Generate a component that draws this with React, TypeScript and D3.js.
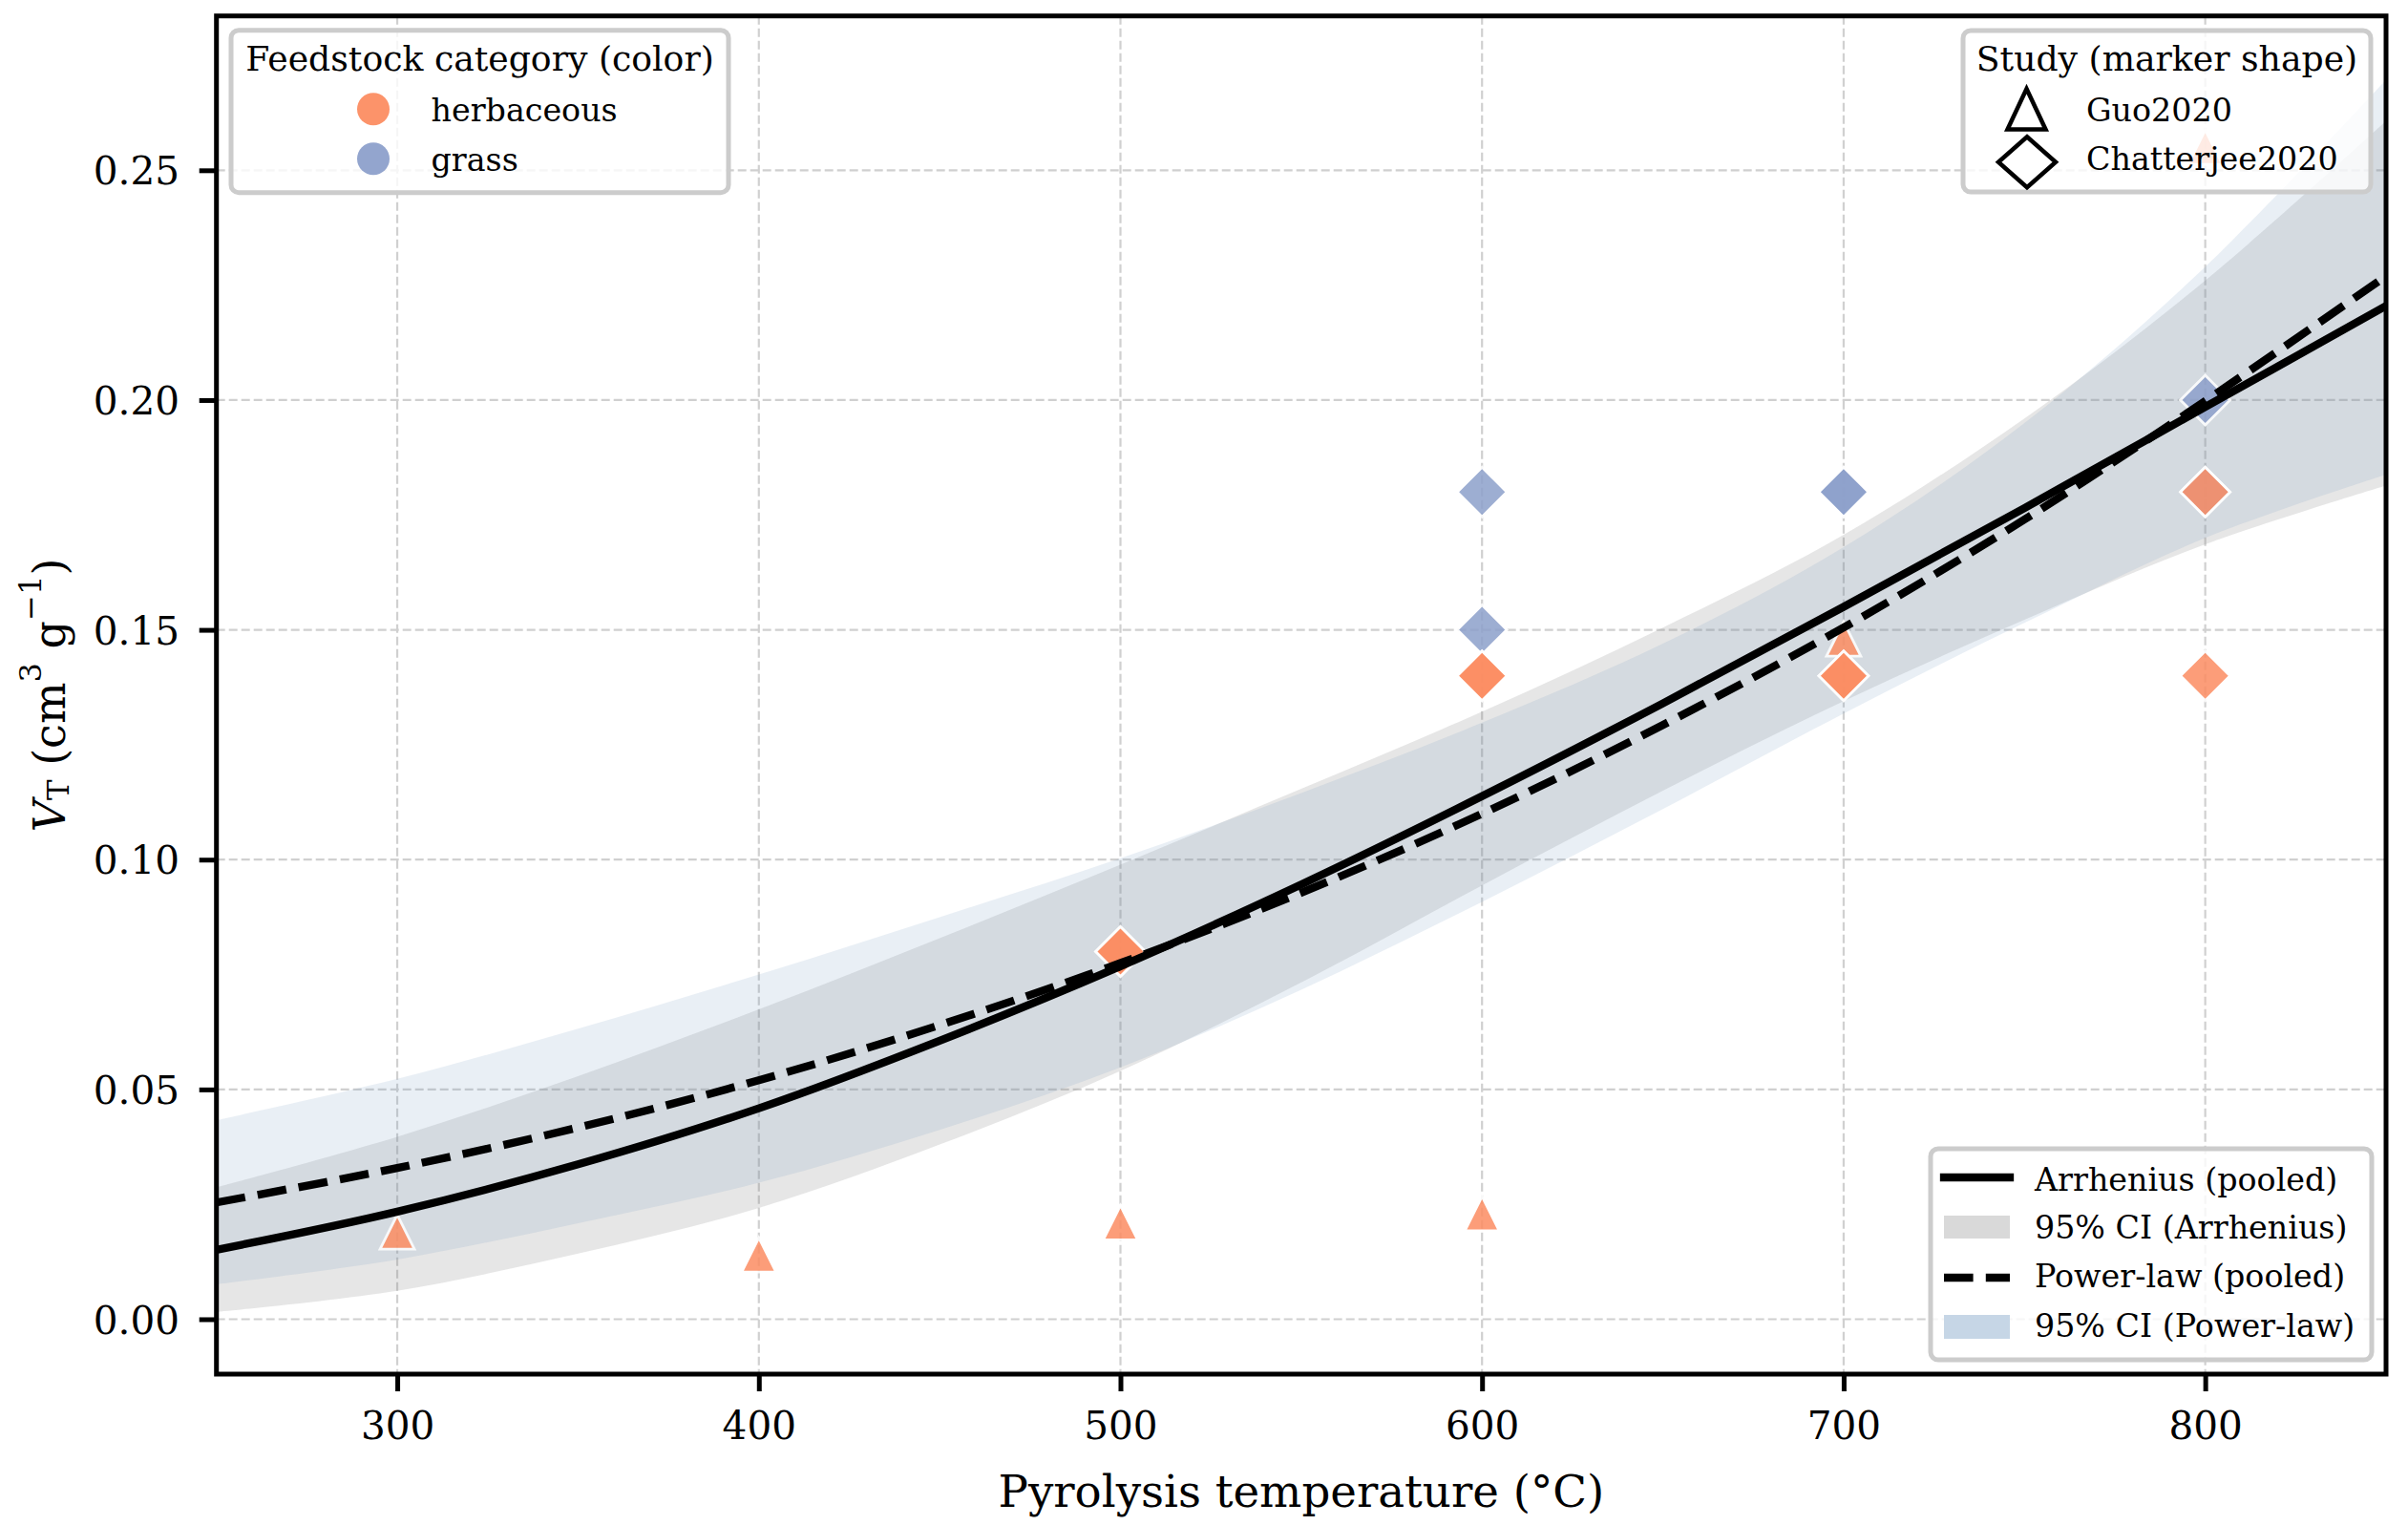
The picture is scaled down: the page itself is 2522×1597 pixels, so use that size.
import { useEffect, useRef } from "react";
import * as d3 from "d3";

// ── Data ──────────────────────────────────────────────────────────────────────

const TEMPS = [250, 300, 350, 400, 450, 500, 550, 600, 650, 700, 750, 800, 850];

// Arrhenius pooled fit and its 95% CI
const ARRH_FIT = [0.0151, 0.0234, 0.0337, 0.0459, 0.0606, 0.0768, 0.0946, 0.1138, 0.134, 0.155, 0.1765, 0.1985, 0.2205];
const ARRH_LO = [0.0016, 0.0062, 0.0143, 0.0242, 0.038, 0.054, 0.0733, 0.0944, 0.115, 0.1345, 0.1522, 0.1686, 0.1814];
const ARRH_HI = [0.0287, 0.0397, 0.0529, 0.0674, 0.0829, 0.0989, 0.1154, 0.1322, 0.1505, 0.1707, 0.196, 0.226, 0.2607];

// Power-law pooled fit and its 95% CI
const POW_FIT = [0.0254, 0.0329, 0.0417, 0.052, 0.064, 0.0775, 0.0928, 0.11, 0.1293, 0.1505, 0.174, 0.1998, 0.227];
const POW_LO = [0.0076, 0.013, 0.0209, 0.0297, 0.0412, 0.0548, 0.0717, 0.0908, 0.111, 0.1318, 0.1515, 0.17, 0.1838];
const POW_HI = [0.0433, 0.0523, 0.0632, 0.075, 0.0875, 0.1003, 0.1145, 0.1298, 0.147, 0.168, 0.195, 0.229, 0.2697];

// Observations
const GUO_T = [300, 400, 500, 600, 700, 800];
const GUO_V = [0.019, 0.014, 0.021, 0.023, 0.148, 0.255];

const CHAT_GRASS_T = [600, 600, 700, 700, 800, 800];
const CHAT_GRASS_V = [0.18, 0.15, 0.18, 0.18, 0.2, 0.18];

const CHAT_HERB_T = [500, 500, 600, 600, 700, 700, 800, 800];
const CHAT_HERB_V = [0.08, 0.08, 0.14, 0.14, 0.14, 0.14, 0.18, 0.14];

const X_TICKS = [300, 400, 500, 600, 700, 800];
const Y_TICKS = [0, 0.05, 0.1, 0.15, 0.2, 0.25];

const CATEGORIES = ["herbaceous", "grass"];
const STUDIES = ["Guo2020", "Chatterjee2020"];
const FIT_LABELS = ["Arrhenius (pooled)", "95% CI (Arrhenius)", "Power-law (pooled)", "95% CI (Power-law)"];

// ── Constants ─────────────────────────────────────────────────────────────────

const W = 2522;
const H = 1597;
const PLOT = { left: 226.7, right: 2499, top: 16.7, bottom: 1439 };
const X_DOMAIN: [number, number] = [250, 850];
const Y_DOMAIN: [number, number] = [-0.01195, 0.28358];

const FONT = "'DejaVu Serif', serif";
const TICK_FONT = 40.5;
const LABEL_FONT = 46.7;
const LEGEND_FONT = 33.3;
const LEGEND_TITLE_FONT = 36.2;

const HERB = "#fc8d62";
const GRASS = "#8da0cb";
const CAT_COLORS = [HERB, GRASS];
const LINE_W = 8.33;

function triPath(cx: number, cy: number, s: number): string {
  return `M${cx},${cy - s}L${cx + s},${cy + s}L${cx - s},${cy + s}Z`;
}

function diaPath(cx: number, cy: number, hw: number, hh: number): string {
  return `M${cx},${cy - hh}L${cx + hw},${cy}L${cx},${cy + hh}L${cx - hw},${cy}Z`;
}

// ── D3 render ─────────────────────────────────────────────────────────────────

function renderChart(svg: SVGSVGElement): void {
  const root = d3.select(svg);
  root.selectAll("*").remove();

  const x = d3.scaleLinear().domain(X_DOMAIN).range([PLOT.left, PLOT.right]);
  const y = d3.scaleLinear().domain(Y_DOMAIN).range([PLOT.bottom, PLOT.top]);

  root.append("rect").attr("width", W).attr("height", H).attr("fill", "#fff");

  root
    .append("defs")
    .append("clipPath")
    .attr("id", "plot-clip")
    .append("rect")
    .attr("x", PLOT.left)
    .attr("y", PLOT.top)
    .attr("width", PLOT.right - PLOT.left)
    .attr("height", PLOT.bottom - PLOT.top);

  const plot = root.append("g").attr("clip-path", "url(#plot-clip)");

  // Grid
  const grid = plot.append("g").attr("stroke", "#d0d0d0").attr("stroke-width", 2.2).attr("stroke-dasharray", "9 4");
  X_TICKS.forEach((t) => {
    grid.append("line").attr("x1", x(t)).attr("x2", x(t)).attr("y1", PLOT.top).attr("y2", PLOT.bottom);
  });
  Y_TICKS.forEach((v) => {
    grid.append("line").attr("x1", PLOT.left).attr("x2", PLOT.right).attr("y1", y(v)).attr("y2", y(v));
  });

  // CI bands
  const idx = d3.range(TEMPS.length);
  const band = (lo: number[], hi: number[]) =>
    d3
      .area<number>()
      .x((i) => x(TEMPS[i]))
      .y0((i) => y(lo[i]))
      .y1((i) => y(hi[i]))
      .curve(d3.curveCatmullRom.alpha(0.5))(idx);

  plot.append("path").attr("d", band(ARRH_LO, ARRH_HI)).attr("fill", "rgb(128,128,128)").attr("fill-opacity", 0.2);
  plot.append("path").attr("d", band(POW_LO, POW_HI)).attr("fill", "rgb(117,155,192)").attr("fill-opacity", 0.16);

  // Markers
  const marks = plot.append("g").attr("stroke", "#fff").attr("stroke-width", 2.8).attr("stroke-linejoin", "miter");
  GUO_T.forEach((t, i) => {
    marks.append("path").attr("d", triPath(x(t), y(GUO_V[i]), 18)).attr("fill", HERB).attr("opacity", 0.85);
  });
  CHAT_GRASS_T.forEach((t, i) => {
    marks.append("path").attr("d", diaPath(x(t), y(CHAT_GRASS_V[i]), 26, 26)).attr("fill", GRASS).attr("opacity", 0.85);
  });
  CHAT_HERB_T.forEach((t, i) => {
    marks.append("path").attr("d", diaPath(x(t), y(CHAT_HERB_V[i]), 26, 26)).attr("fill", HERB).attr("opacity", 0.85);
  });

  // Fit lines
  const line = (vals: number[]) =>
    d3
      .line<number>()
      .x((i) => x(TEMPS[i]))
      .y((i) => y(vals[i]))
      .curve(d3.curveCatmullRom.alpha(0.5))(idx);

  plot
    .append("path")
    .attr("d", line(ARRH_FIT))
    .attr("fill", "none")
    .attr("stroke", "#000")
    .attr("stroke-width", LINE_W)
    .attr("stroke-linecap", "square");
  plot
    .append("path")
    .attr("d", line(POW_FIT))
    .attr("fill", "none")
    .attr("stroke", "#000")
    .attr("stroke-width", LINE_W)
    .attr("stroke-dasharray", "30.6 13.2");

  // Spines
  root
    .append("rect")
    .attr("x", PLOT.left)
    .attr("y", PLOT.top)
    .attr("width", PLOT.right - PLOT.left)
    .attr("height", PLOT.bottom - PLOT.top)
    .attr("fill", "none")
    .attr("stroke", "#000")
    .attr("stroke-width", 5);

  // Axes
  const xAxis = root
    .append("g")
    .attr("transform", `translate(0,${PLOT.bottom})`)
    .call(d3.axisBottom(x).tickValues(X_TICKS).tickSize(18).tickPadding(21).tickFormat(d3.format("d")));
  xAxis.select(".domain").remove();
  xAxis.selectAll("line").attr("stroke", "#000").attr("stroke-width", 5);
  xAxis.selectAll("text").attr("font-size", TICK_FONT).attr("font-family", FONT).attr("fill", "#000");

  const yAxis = root
    .append("g")
    .attr("transform", `translate(${PLOT.left},0)`)
    .call(d3.axisLeft(y).tickValues(Y_TICKS).tickSize(18).tickPadding(20.7).tickFormat(d3.format(".2f")));
  yAxis.select(".domain").remove();
  yAxis.selectAll("line").attr("stroke", "#000").attr("stroke-width", 5);
  yAxis
    .selectAll("text")
    .attr("font-size", TICK_FONT)
    .attr("font-family", FONT)
    .attr("fill", "#000")
    .attr("dy", "0.36em");

  // Axis labels
  root
    .append("text")
    .attr("x", (PLOT.left + PLOT.right) / 2)
    .attr("y", 1578)
    .attr("text-anchor", "middle")
    .attr("font-family", FONT)
    .attr("font-size", LABEL_FONT)
    .text("Pyrolysis temperature (°C)");

  const yl = root
    .append("text")
    .attr("transform", `translate(68,${(PLOT.top + PLOT.bottom) / 2}) rotate(-90)`)
    .attr("text-anchor", "middle")
    .attr("font-family", FONT)
    .attr("font-size", 46)
    .style("white-space", "pre");
  const small = 46 * 0.7;
  yl.append("tspan").attr("font-style", "italic").text("V");
  yl.append("tspan").attr("font-size", small).attr("dy", 4).text("T");
  yl.append("tspan").attr("dy", -4).text(" (cm");
  yl.append("tspan").attr("font-size", small).attr("dy", -25).text("3");
  yl.append("tspan").attr("dy", 25).text(" g");
  yl.append("tspan").attr("font-size", small).attr("dy", -25).text("\u22121");
  yl.append("tspan").attr("dy", 25).text(")");

  // ── Legends ──
  const frame = (x0: number, y0: number, x1: number, y1: number) =>
    root
      .append("rect")
      .attr("x", x0)
      .attr("y", y0)
      .attr("width", x1 - x0)
      .attr("height", y1 - y0)
      .attr("rx", 8)
      .attr("fill", "#fff")
      .attr("fill-opacity", 0.8)
      .attr("stroke", "#cccccc")
      .attr("stroke-width", 5);

  const label = (tx: number, ty: number, s: string, anchor = "start", size = LEGEND_FONT) =>
    root
      .append("text")
      .attr("x", tx)
      .attr("y", ty)
      .attr("text-anchor", anchor)
      .attr("font-family", FONT)
      .attr("font-size", size)
      .text(s);

  // Feedstock category (color)
  frame(242, 31.7, 763, 201.7);
  label(502.5, 74, "Feedstock category (color)", "middle", LEGEND_TITLE_FONT);
  CATEGORIES.forEach((c, i) => {
    const cy = 114.3 + i * 52;
    root.append("circle").attr("cx", 391).attr("cy", cy).attr("r", 17).attr("fill", CAT_COLORS[i]).attr("opacity", 0.95);
    label(451.5, cy + 12.5, c);
  });

  // Study (marker shape)
  frame(2056, 32, 2483, 201);
  label(2269.5, 74, "Study (marker shape)", "middle", LEGEND_TITLE_FONT);
  const sm = root.append("g").attr("fill", "#fff").attr("stroke", "#000").attr("stroke-width", 4.5);
  sm.append("path").attr("d", `M2122.5,93L2142.5,135.5L2102.5,135.5Z`);
  sm.append("path").attr("d", diaPath(2123, 169.7, 30, 26.5));
  STUDIES.forEach((s, i) => label(2185, 126.7 + i * 51, s));

  // Fits
  frame(2022, 1203, 2484, 1424);
  root
    .append("line")
    .attr("x1", 2036)
    .attr("x2", 2105)
    .attr("y1", 1233)
    .attr("y2", 1233)
    .attr("stroke", "#000")
    .attr("stroke-width", LINE_W)
    .attr("stroke-linecap", "square");
  root.append("rect").attr("x", 2036).attr("y", 1273).attr("width", 69).attr("height", 24).attr("fill", "#d9d9d9");
  root
    .append("line")
    .attr("x1", 2036)
    .attr("x2", 2105)
    .attr("y1", 1338)
    .attr("y2", 1338)
    .attr("stroke", "#000")
    .attr("stroke-width", LINE_W)
    .attr("stroke-dasharray", "30.6 13.2");
  root.append("rect").attr("x", 2036).attr("y", 1377).attr("width", 69).attr("height", 25).attr("fill", "#c6d6e6");
  const fitBase = [1247, 1297, 1348, 1400];
  FIT_LABELS.forEach((s, i) => label(2131, fitBase[i], s));
}

// ── Component ─────────────────────────────────────────────────────────────────

export default function App() {
  const svgRef = useRef<SVGSVGElement>(null);

  useEffect(() => {
    document.body.style.margin = "0";
    if (svgRef.current) renderChart(svgRef.current);
  }, []);

  return (
    <div style={{ width: W, height: H }}>
      <svg ref={svgRef} width={W} height={H} viewBox={`0 0 ${W} ${H}`} style={{ display: "block" }} />
    </div>
  );
}
